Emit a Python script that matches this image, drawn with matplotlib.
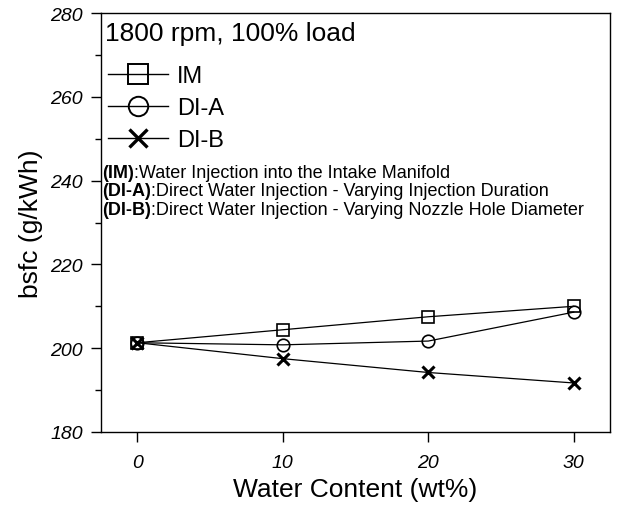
import numpy as np
import matplotlib.pyplot as plt
from matplotlib.lines import Line2D

plt.rcParams['font.family'] = ['Liberation Sans', 'DejaVu Sans']

# Données
water = [0, 10, 20, 30]
bsfc_im = [201.3, 204.4, 207.5, 210.0]
bsfc_dia = [201.3, 200.8, 201.7, 208.6]
bsfc_dib = [201.3, 197.5, 194.2, 191.7]

fig = plt.figure(figsize=(6.17, 5.06), dpi=100)
ax = fig.add_axes([0.1637, 0.1443, 0.825, 0.828])

ax.plot(water, bsfc_im, color='black', lw=0.9, marker='s', ms=8.8,
        mfc='none', mec='black', mew=1.2)
ax.plot(water, bsfc_dia, color='black', lw=0.9, marker='o', ms=9,
        mfc='none', mec='black', mew=1.2)
ax.plot(water, bsfc_dib, color='black', lw=0.9, marker='x', ms=8.5,
        mec='black', mew=2.2)

ax.set_xlim(-2.5, 32.5)
ax.set_ylim(180, 280)
ax.set_xticks([0, 10, 20, 30])
ax.set_yticks(np.arange(180, 281, 20))
ax.set_yticks(np.arange(190, 280, 20), minor=True)
ax.tick_params(axis='both', direction='out', length=7, width=1, labelsize=14)
ax.tick_params(axis='y', which='minor', direction='out', length=4, width=1)
ax.tick_params(axis='x', pad=9)
ax.tick_params(axis='y', pad=6)
for lab in ax.get_xticklabels() + ax.get_yticklabels():
    lab.set_style('italic')
for s in ax.spines.values():
    s.set_linewidth(1)

ax.set_xlabel('Water Content (wt%)', fontsize=19, labelpad=4)
ax.set_ylabel('bsfc (g/kWh)', fontsize=19, labelpad=5)

# Titre et légende dans le cadre
ax.text(0.008, 0.952, '1800 rpm, 100% load', transform=ax.transAxes,
        fontsize=19, va='center', ha='left')

handles = [
    Line2D([], [], color='black', lw=1, marker='s', ms=14, mfc='none', mew=1.4),
    Line2D([], [], color='black', lw=1, marker='o', ms=14, mfc='none', mew=1.4),
    Line2D([], [], color='black', lw=1, marker='x', ms=13, mew=2.4),
]
ax.legend(handles, ['IM', 'DI-A', 'DI-B'], loc='upper left',
          bbox_to_anchor=(0.014, 0.876), frameon=False, fontsize=17,
          handlelength=2.55, handletextpad=0.38, labelspacing=0.42,
          borderpad=0, borderaxespad=0)

notes = [
    ('(IM)', ':Water Injection into the Intake Manifold'),
    ('(DI-A)', ':Direct Water Injection - Varying Injection Duration'),
    ('(DI-B)', ':Direct Water Injection - Varying Nozzle Hole Diameter'),
]
y0 = 0.609
for i, (tag, desc) in enumerate(notes):
    t = ax.text(0.003, y0 - i * 0.0442, tag, transform=ax.transAxes,
                fontsize=13, fontweight='bold', va='baseline', ha='left')
    ax.annotate(desc, xy=(1, 0), xycoords=t, fontsize=13,
                va='bottom', ha='left')

fig.savefig('out.png', dpi=100)
